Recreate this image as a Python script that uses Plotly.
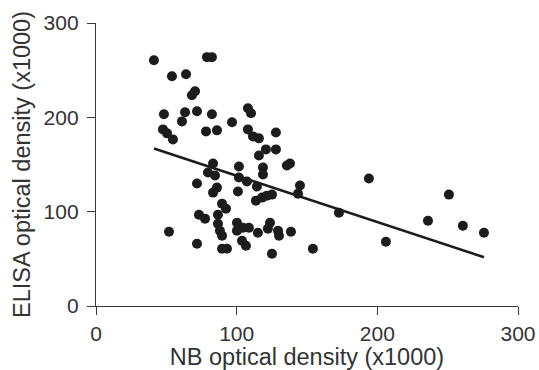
import plotly.graph_objects as go
import numpy as np

# NB optical density (x1000)
nb_od = [41.2, 78.9, 82.4, 54.0, 64.0, 68.2, 70.4, 48.3, 63.3, 61.1, 71.8, 82.4, 96.7,
         47.6, 50.5, 54.7, 78.2, 86.0, 108.0, 110.2, 108.0, 111.6, 115.8, 127.9, 120.8,
         127.9, 115.8, 135.7, 137.9, 83.2, 79.6, 84.6, 101.6, 118.7, 118.7, 71.8, 101.6,
         107.3, 114.4, 145.0, 143.6, 86.0, 83.2, 100.9, 113.7, 118.0, 121.5, 125.1, 89.6,
         92.4, 86.7, 73.2, 77.5, 86.7, 88.1, 89.6, 100.2, 100.2, 104.5, 108.7, 115.1,
         103.8, 106.6, 123.7, 122.2, 129.4, 130.1, 138.6, 51.9, 71.8, 89.6, 93.1, 125.1,
         154.2, 172.7, 194.0, 206.1, 250.9, 236.0, 260.8, 275.8]
# ELISA optical density (x1000)
elisa_od = [260.6, 263.8, 263.8, 243.6, 245.7, 223.4, 227.7, 203.2, 205.3, 195.7, 206.4, 203.2, 194.7,
            187.2, 183.0, 176.6, 185.1, 186.2, 209.6, 204.3, 187.2, 179.8, 177.7, 184.0, 166.0,
            166.0, 159.6, 148.9, 151.1, 151.1, 141.5, 138.3, 147.9, 146.8, 139.4, 129.8, 136.2,
            131.9, 126.6, 127.7, 119.1, 125.5, 120.2, 121.3, 111.7, 114.9, 117.0, 118.1, 108.5,
            103.2, 96.8, 96.8, 92.6, 87.2, 79.8, 74.5, 88.3, 79.8, 83.0, 83.0, 77.7,
            69.1, 63.8, 88.3, 81.9, 79.8, 74.5, 78.7, 78.7, 66.0, 60.6, 60.6, 55.3,
            60.6, 98.9, 135.1, 68.1, 118.1, 90.4, 85.1, 77.7]

# regression line parameters
fit_intercept = 187.2
fit_slope = -0.491

x_ticks = [0, 100, 200, 300]
y_ticks = [0, 100, 200, 300]

fit_x = np.array([min(nb_od), max(nb_od)])
fit_y = fit_intercept + fit_slope * fit_x

fig = go.Figure()
fig.add_trace(go.Scatter(x=nb_od, y=elisa_od, mode="markers",
                         marker=dict(size=10, color="#1e1b1c", line=dict(width=0)),
                         showlegend=False, hoverinfo="skip"))
fig.add_trace(go.Scatter(x=fit_x, y=fit_y, mode="lines",
                         line=dict(color="#1e1b1c", width=2.6),
                         showlegend=False, hoverinfo="skip"))

font_family = "Liberation Sans, Arial, Helvetica, sans-serif"
axis_common = dict(
    showgrid=False, zeroline=False, showline=True, linecolor="#3a3a3a", linewidth=1.3,
    ticks="outside", ticklen=8, tickwidth=1.3, tickcolor="#3a3a3a",
    tickfont=dict(size=21, color="#333333", family=font_family),
    range=[0, 300], fixedrange=True,
)
fig.update_layout(
    width=539, height=370,
    margin=dict(l=96, r=21, t=23, b=64, autoexpand=False),
    paper_bgcolor="white", plot_bgcolor="white",
    font=dict(family=font_family, color="#333333"),
    xaxis=dict(**axis_common, tickvals=x_ticks, ticklabelstandoff=1,
               title=dict(text="NB optical density (x1000)", standoff=2,
                          font=dict(size=23.5, color="#333333", family=font_family))),
    yaxis=dict(**axis_common, tickvals=y_ticks, ticklabelstandoff=4,
               title=dict(text="ELISA optical density (x1000)", standoff=6,
                          font=dict(size=23.5, color="#333333", family=font_family))),
)
fig.write_html("out.html", config={"displayModeBar": False},
               post_script="document.body.style.margin='0';document.body.style.overflow='hidden';")
